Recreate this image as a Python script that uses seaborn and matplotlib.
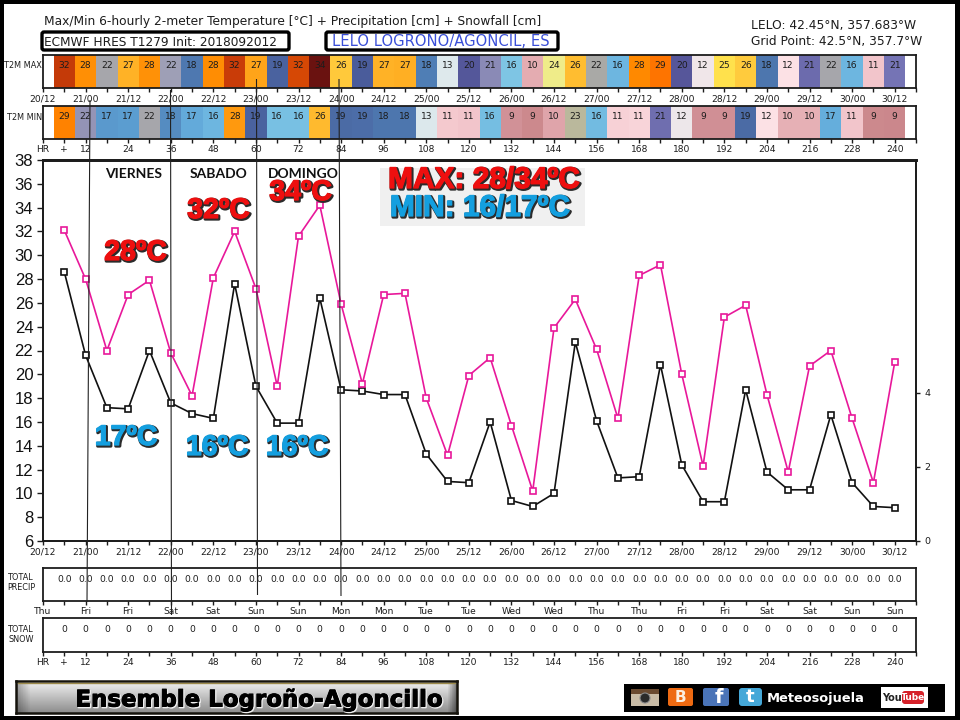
import numpy as np
import pandas as pd
import seaborn as sns
import matplotlib
matplotlib.use("Agg")
import matplotlib.pyplot as plt
import matplotlib.patheffects as pe
from matplotlib.colors import LinearSegmentedColormap
from matplotlib.patches import Rectangle, FancyBboxPatch, Circle

# Forecast hours and 6-hourly 2-metre temperatures
hours = list(range(6, 241, 6))
t2m_max = [32.1, 28.0, 22.0, 26.7, 27.9, 21.8, 18.2, 28.1, 32.0, 27.2,
           19.0, 31.6, 34.2, 25.9, 19.2, 26.7, 26.8, 18.0, 13.2, 19.9,
           21.4, 15.7, 10.2, 23.9, 26.3, 22.1, 16.3, 28.3, 29.2, 20.0,
           12.3, 24.8, 25.8, 18.3, 11.8, 20.7, 22.0, 16.3, 10.9, 21.0]
t2m_min = [28.6, 21.6, 17.2, 17.1, 22.0, 17.6, 16.7, 16.3, 27.6, 19.0,
           15.9, 15.9, 26.4, 18.7, 18.6, 18.3, 18.3, 13.3, 11.0, 10.9,
           16.0, 9.4, 8.9, 10.0, 22.7, 16.1, 11.3, 11.4, 20.8, 12.4,
           9.3, 9.3, 18.7, 11.8, 10.3, 10.3, 16.6, 10.9, 8.9, 8.8]
total_precip = [0.0] * 40
total_snow = [0] * 40

date_labels = ["20/12", "21/00", "21/12", "22/00", "22/12", "23/00", "23/12",
               "24/00", "24/12", "25/00", "25/12", "26/00", "26/12", "27/00",
               "27/12", "28/00", "28/12", "29/00", "29/12", "30/00", "30/12"]
day_labels = ["Thu", "Fri", "Fri", "Sat", "Sat", "Sun", "Sun", "Mon", "Mon",
              "Tue", "Tue", "Wed", "Wed", "Thu", "Thu", "Fri", "Fri", "Sat",
              "Sat", "Sun", "Sun"]
hour_labels = ["HR", "12", "24", "36", "48", "60", "72", "84", "96", "108", "120",
               "132", "144", "156", "168", "180", "192", "204", "216", "228", "240"]
temp_ticks = list(range(6, 39, 2))
precip_ticks = [0, 2, 4]

# Temperature colour scale for the two heat strips
scale_temps = [8.5, 9.5, 10.0, 10.9, 11.4, 11.8, 12.4, 13.2, 15.7, 16.5, 17.0, 18.0,
               18.7, 19.2, 20.0, 21.0, 21.8, 22.1, 22.7, 23.9, 24.8, 25.9, 26.8,
               27.9, 28.3, 29.2, 31.6, 32.1, 34.2]
scale_colors = ["#c98488", "#d3949a", "#e2a8ad", "#f4c8ce", "#f9d6db", "#fde3e7",
                "#ebe7ea", "#dde9ec", "#7cc4e4", "#66b0de", "#5c9fd2", "#4f7db4",
                "#4b6aa5", "#4a5c9b", "#56569a", "#7574b5", "#9e9fb6", "#a9a9a6",
                "#bab89c", "#efec8a", "#ffe24c", "#ffca3c", "#ffb024", "#ff9208",
                "#ff8a00", "#ff7500", "#d94a05", "#c83c08", "#6a1210"]

sns.set_theme(style="white")
plt.rcParams["font.family"] = ["DejaVu Sans"]

W, H = 960, 720
LEFT, RIGHT = 43, 916
HOUR_MAX = 246
INK = "#1c1c1c"


def rect(x0, y0, x1, y1):
    return [x0 / W, 1 - y1 / H, (x1 - x0) / W, (y1 - y0) / H]


fig = plt.figure(figsize=(W / 100, H / 100), dpi=100, facecolor="black")
backdrop = fig.add_axes([0, 0, 1, 1], zorder=0)
backdrop.set_xlim(0, W)
backdrop.set_ylim(H, 0)
backdrop.axis("off")
backdrop.add_patch(Rectangle((4, 4), 951, 712, fc="white", ec="none"))

tick_hours = list(range(0, HOUR_MAX + 1, 6))


def sparse(labels):
    out = []
    for i in range(len(tick_hours)):
        out.append(labels[i // 2] if i % 2 == 0 and i // 2 < len(labels) else "")
    return out


hr_row = sparse(hour_labels)
hr_row[1] = "+"


def style_box(ax):
    for s in ax.spines.values():
        s.set_visible(True)
        s.set_linewidth(1.3)
        s.set_color(INK)


def heat_strip(box, values, labels):
    ax = fig.add_axes(rect(*box), zorder=1)
    frame = pd.DataFrame([values], columns=hours)
    pos = [(t - scale_temps[0]) / (scale_temps[-1] - scale_temps[0]) for t in scale_temps]
    cmap = LinearSegmentedColormap.from_list("t2m", list(zip(pos, scale_colors)))
    sns.heatmap(frame, ax=ax, cmap=cmap, vmin=scale_temps[0], vmax=scale_temps[-1],
                cbar=False, annot=True, fmt=".0f",
                annot_kws={"color": INK, "fontsize": 6.6}, xticklabels=False, yticklabels=False)
    for t in ax.texts:
        t.set_y(0.33)
    ax.set_xlim(-0.5, 40.5)
    ax.set_xticks([(h - 3) / 6 for h in tick_hours])
    ax.set_xticklabels(labels, fontsize=6.6, color=INK)
    ax.set_yticks([])
    ax.set_xlabel("")
    ax.set_ylabel("")
    ax.tick_params(axis="x", length=3, width=1, color=INK, pad=1.5, bottom=True)
    style_box(ax)
    return ax


heat_strip((LEFT, 55, RIGHT, 88), t2m_max, sparse(date_labels))
heat_strip((LEFT, 106, RIGHT, 139), t2m_min, hr_row)

# Main temperature panel
ax = fig.add_axes(rect(LEFT, 160, RIGHT, 541), zorder=1)
series = pd.DataFrame({"hour": hours, "max": t2m_max, "min": t2m_min})
for col, color in (("min", "#111111"), ("max", "#e8189a")):
    sns.lineplot(data=series, x="hour", y=col, ax=ax, color=color, linewidth=1.2,
                 marker="s", markersize=5, markerfacecolor="white",
                 markeredgecolor=color, markeredgewidth=1.2, estimator=None)
ax.set_xlim(0, HOUR_MAX)
ax.set_ylim(6, 38)
ax.set_xlabel("")
ax.set_ylabel("")
ax.set_xticks(tick_hours)
ax.set_xticklabels(sparse(date_labels), fontsize=6.6, color=INK)
ax.set_yticks(temp_ticks)
ax.set_yticklabels([str(t) for t in temp_ticks], fontsize=12, color="#111111",
                   family="Liberation Sans")
ax.tick_params(axis="x", length=3, width=1, color=INK, pad=1.5, bottom=True)
ax.tick_params(axis="y", length=4, width=1, color=INK, pad=3, left=True)
style_box(ax)
ax.spines["top"].set_linewidth(2)

precip_axis = ax.twinx()
precip_axis.set_ylim(0, 381 / 37)
precip_axis.set_yticks(precip_ticks)
precip_axis.set_yticklabels([str(p) for p in precip_ticks], fontsize=6.8, color=INK)
precip_axis.tick_params(axis="y", length=3, width=1, color=INK, pad=3, right=True)
precip_axis.grid(False)
style_box(precip_axis)
precip_axis.spines["top"].set_linewidth(2)


def value_row(box, values, fmt, labels):
    row = fig.add_axes(rect(*box), zorder=1)
    row.set_xlim(0, HOUR_MAX)
    row.set_ylim(0, 1)
    for h, v in zip(hours, values):
        row.text(h, 0.66, format(v, fmt), ha="center", va="center", fontsize=6.6, color=INK)
    row.set_yticks([])
    row.set_xticks(tick_hours)
    row.set_xticklabels(labels, fontsize=6.6, color=INK)
    row.tick_params(axis="x", length=3, width=1, color=INK, pad=1.5, bottom=True)
    style_box(row)


value_row((LEFT, 568, RIGHT, 601), total_precip, ".1f", sparse(day_labels))
value_row((LEFT, 618, RIGHT, 652), total_snow, "d", hr_row)

# Everything placed by pixel position goes on a transparent overlay
top = fig.add_axes([0, 0, 1, 1], zorder=3)
top.set_xlim(0, W)
top.set_ylim(H, 0)
top.axis("off")
top.patch.set_alpha(0)

top.text(44, 21, "Max/Min 6-hourly 2-meter Temperature [°C] + Precipitation [cm] + Snowfall [cm]",
         fontsize=8.8, va="center", color=INK)
top.text(751, 26, "LELO: 42.45°N, 357.683°W", fontsize=8.85, va="center", color=INK)
top.text(751, 42, "Grid Point: 42.5°N, 357.7°W", fontsize=8.85, va="center", color=INK)
for x0, x1 in ((42, 289), (326, 558)):
    top.add_patch(FancyBboxPatch((x0, 32), x1 - x0, 18,
                                 boxstyle="round,pad=0,rounding_size=2",
                                 fc="white", ec="black", lw=2.4))
top.text(44, 42, "ECMWF HRES T1279 Init: 2018092012", fontsize=8.7, va="center", color=INK)
top.text(332, 42, "LELO LOGRONO/AGONCIL, ES", fontsize=10.6, va="center", color="#3a4fd8")

top.text(42, 66, "T2M MAX", fontsize=5.9, ha="right", va="center", color=INK)
top.text(42, 117, "T2M MIN", fontsize=5.9, ha="right", va="center", color=INK)
for y, word in ((578, "TOTAL"), (588, "PRECIP"), (629, "TOTAL"), (640, "SNOW")):
    top.text(21, y, word, fontsize=5.9, ha="center", va="center", color=INK)

# Day separators
for x_a, y_a, x_b, y_b in ((90, 100, 87, 602), (170.5, 90, 171.5, 615),
                           (256.5, 79, 257.5, 595), (339, 79, 341, 596)):
    top.plot([x_a, x_b], [y_a, y_b], color="#222222", lw=0.8, solid_capstyle="butt")

for x, word in ((134, "VIERNES"), (219, "SABADO"), (303, "DOMINGO")):
    top.text(x, 174, word, fontsize=10, fontweight="bold", family="Lato",
             ha="center", va="center", color="#111111")

top.add_patch(Rectangle((380, 168), 205, 58, fc="#f0f0f0", ec="none"))


def callout(x, y, word, color, size=20.5):
    top.text(x, y, word, fontsize=size, fontweight="bold", family="Liberation Sans",
             ha="center", va="center", color=color,
             path_effects=[pe.Stroke(linewidth=2.2, foreground="#2b2b2b", offset=(0.8, -0.8)),
                           pe.Stroke(linewidth=0.9, foreground=color),
                           pe.Normal()])


RED = "#ee0f0f"
BLUE = "#149fdf"
callout(135.5, 253, "28ºC", RED)
callout(218.5, 211, "32ºC", RED)
callout(300.5, 193, "34ºC", RED)
callout(126, 438, "17ºC", BLUE)
callout(217, 448, "16ºC", BLUE)
callout(297, 448, "16ºC", BLUE)
callout(484, 180, "MAX: 28/34ºC", RED, 21.5)
callout(480, 208, "MIN: 16/17ºC", BLUE, 21.5)

# Station banner
banner = fig.add_axes(rect(16, 681, 457, 713), zorder=2)
shade = np.linspace(0.95, 0.55, 64)[:, None] * np.ones((64, 256))
left_fade = np.minimum(np.arange(256) / 8, 1)
right_fade = np.minimum((255 - np.arange(256)) / 5, 1)
shade = shade * (0.7 + 0.3 * left_fade) * (0.55 + 0.45 * right_fade)
banner.imshow(shade, cmap="gray", vmin=0, vmax=1, aspect="auto")
banner.set_xticks([])
banner.set_yticks([])
for s in banner.spines.values():
    s.set_visible(True)
    s.set_color("#15130c")
    s.set_linewidth(1.8)
top.plot([18, 455], [683, 683], color="#9c8a4a", lw=1)
top.text(258.5, 700, "Ensemble Logroño-Agoncillo", fontsize=16.5, fontweight="bold",
         ha="center", va="center", color="black",
         path_effects=[pe.Stroke(linewidth=1.2, foreground="#f0f0f0", offset=(0.7, -0.7)),
                       pe.Stroke(linewidth=0.7, foreground="black"),
                       pe.Normal()])

# Social media strip
top.add_patch(Rectangle((624, 684), 321, 28, fc="black", ec="none"))
top.add_patch(Rectangle((631, 689), 28, 17, fc="#c8bba6", ec="none"))
top.add_patch(Rectangle((631, 689), 28, 5, fc="#6a4a30", ec="none"))
top.add_patch(Circle((645, 698), 5, fc="#2a2a2a", ec="#8a8a8a", lw=0.8))
top.add_patch(FancyBboxPatch((668, 688), 25, 18, boxstyle="round,pad=0,rounding_size=2",
                             fc="#ee6a12", ec="none"))
top.text(680.5, 697.5, "B", fontsize=11, fontweight="bold", ha="center", va="center", color="#fbeee0")
top.add_patch(FancyBboxPatch((703, 688), 26, 18, boxstyle="round,pad=0,rounding_size=2",
                             fc="#4a74b8", ec="none"))
top.text(719, 697.5, "f", fontsize=14, fontweight="bold", ha="center", va="center", color="white")
top.add_patch(FancyBboxPatch((739, 688), 23, 18, boxstyle="round,pad=0,rounding_size=3",
                             fc="#45a8d8", ec="none"))
top.text(750.5, 697.5, "t", fontsize=13, fontweight="bold", ha="center", va="center", color="white")
top.text(767, 698.5, "Meteosojuela", fontsize=9.4, fontweight="bold", va="center", color="white")
top.add_patch(Rectangle((881, 687), 47, 21, fc="white", ec="none"))
top.text(892, 698, "You", fontsize=7, fontweight="bold", ha="center", va="center", color="#222222")
top.add_patch(FancyBboxPatch((902, 691), 22, 13, boxstyle="round,pad=0,rounding_size=3",
                             fc="#d6222a", ec="none"))
top.text(913, 697.5, "Tube", fontsize=6.5, fontweight="bold", ha="center", va="center", color="white")

# Outer black frame
for x, y, w, h in ((0, 0, W, 4), (0, 716, W, 4), (0, 0, 4, H), (955, 0, 5, H)):
    top.add_patch(Rectangle((x, y), w, h, fc="black", ec="none"))

fig.savefig("out.png", dpi=100, facecolor="black")
